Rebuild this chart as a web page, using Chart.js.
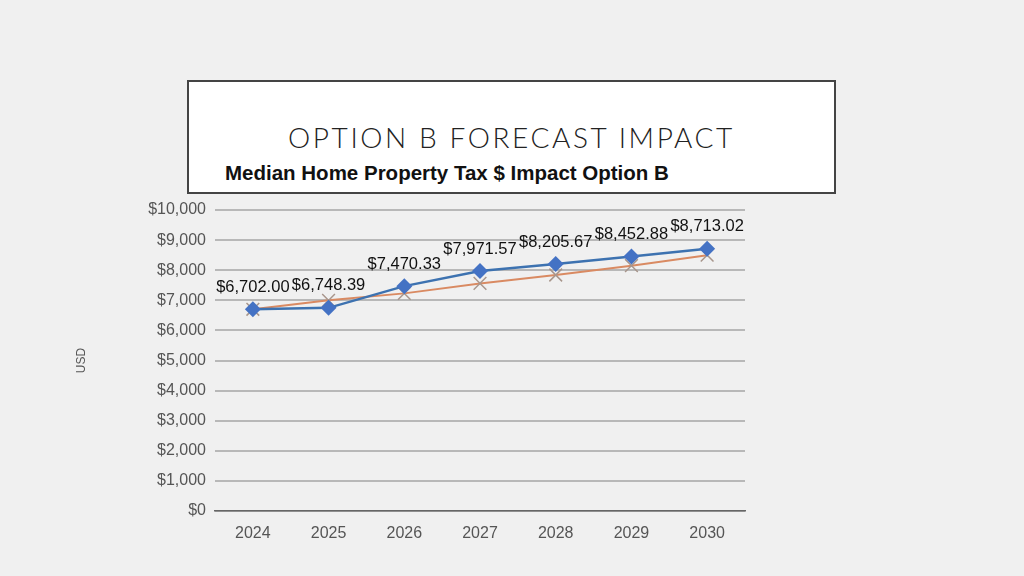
<!DOCTYPE html>
<html>
<head>
<meta charset="utf-8">
<script src="https://cdn.jsdelivr.net/npm/chart.js@4"></script>
<style>
  html, body { margin: 0; padding: 0; background: #f0f0f0; }
  #wrap { position: relative; width: 1024px; height: 576px; overflow: hidden; }
  #titleBox {
    position: absolute; left: 187px; top: 80px; width: 645px; height: 110px;
    background: #fff; border: 2px solid #444;
  }
  #titleBox h1 {
    position: absolute; left: 0; right: 0; top: 38px; margin: 0; text-align: center;
    font-family: "Lato", "Open Sans", sans-serif; font-weight: 300; font-size: 28px;
    letter-spacing: 2.6px; color: #222;
  }
  #titleBox h2 {
    position: absolute; left: 36px; top: 79px; margin: 0;
    font-family: "Liberation Sans", Arial, sans-serif; font-weight: 700; font-size: 20.5px;
    letter-spacing: 0; color: #111;
  }
  canvas { position: absolute; left: 0; top: 0; }
</style>
</head>
<body>
<div id="wrap">
  <div id="titleBox">
    <h1>OPTION B FORECAST IMPACT</h1>
    <h2>Median Home Property Tax $ Impact Option B</h2>
  </div>
  <canvas id="taxChart" width="1024" height="576"></canvas>
</div>
<script>
const years = ['2024', '2025', '2026', '2027', '2028', '2029', '2030'];
const optionB = [6702.00, 6748.39, 7470.33, 7971.57, 8205.67, 8452.88, 8713.02];
const baseline = [6702, 7000, 7230, 7560, 7840, 8150, 8500];

const money = v => '$' + v.toLocaleString('en-US');
const money2 = v => '$' + v.toLocaleString('en-US', { minimumFractionDigits: 2, maximumFractionDigits: 2 });

// labels above the blue points
const valueLabels = {
    id: 'valueLabels',
    afterDatasetsDraw(chart) {
        const ctx = chart.ctx;
        const meta = chart.getDatasetMeta(0);
        ctx.save();
        ctx.font = '16.5px "Liberation Sans", Arial, sans-serif';
        ctx.fillStyle = '#111';
        ctx.textAlign = 'center';
        ctx.textBaseline = 'middle';
        meta.data.forEach((pt, i) => {
            ctx.fillText(money2(optionB[i]), pt.x, pt.y - 22);
        });
        ctx.restore();
    }
};

const ctx = document.getElementById('taxChart').getContext('2d');
new Chart(ctx, {
    type: 'line',
    data: {
        labels: years,
        datasets: [{
            label: 'Option B',
            data: optionB,
            borderColor: '#3d72b0',
            borderWidth: 2.5,
            backgroundColor: '#4472c4',
            pointStyle: 'rectRot',
            pointRadius: 8,
            pointBorderWidth: 0,
            pointBackgroundColor: '#4472c4',
            tension: 0
        }, {
            label: 'Baseline',
            data: baseline,
            borderColor: '#d98a62',
            borderWidth: 2,
            pointStyle: 'crossRot',
            pointRadius: 9,
            pointBorderWidth: 1.5,
            pointBorderColor: '#a8968c',
            tension: 0
        }]
    },
    options: {
        responsive: false,
        animation: false,
        layout: { padding: { left: 70, right: 279, top: 210, bottom: 25 } },
        plugins: {
            legend: { display: false },
            tooltip: { enabled: false }
        },
        scales: {
            x: {
                offset: true,
                grid: { display: false },
                border: { display: true, color: '#666', width: 1.5 },
                ticks: {
                    color: '#555', padding: 5,
                    font: { family: '"Liberation Sans", Arial, sans-serif', size: 16 }
                },
                afterFit(scale) { scale.height = 40; }
            },
            y: {
                min: 0,
                max: 10000,
                grid: { color: '#b8b8b8', lineWidth: 2, drawTicks: false },
                border: { display: false },
                ticks: {
                    stepSize: 1000, color: '#555', padding: 9,
                    font: { family: '"Liberation Sans", Arial, sans-serif', size: 16 },
                    callback: v => money(v)
                },
                title: {
                    display: true, text: 'USD', color: '#555',
                    font: { family: '"Liberation Sans", Arial, sans-serif', size: 12 }
                },
                afterFit(scale) { scale.width = 145; }
            }
        }
    },
    plugins: [valueLabels]
});
</script>
</body>
</html>
